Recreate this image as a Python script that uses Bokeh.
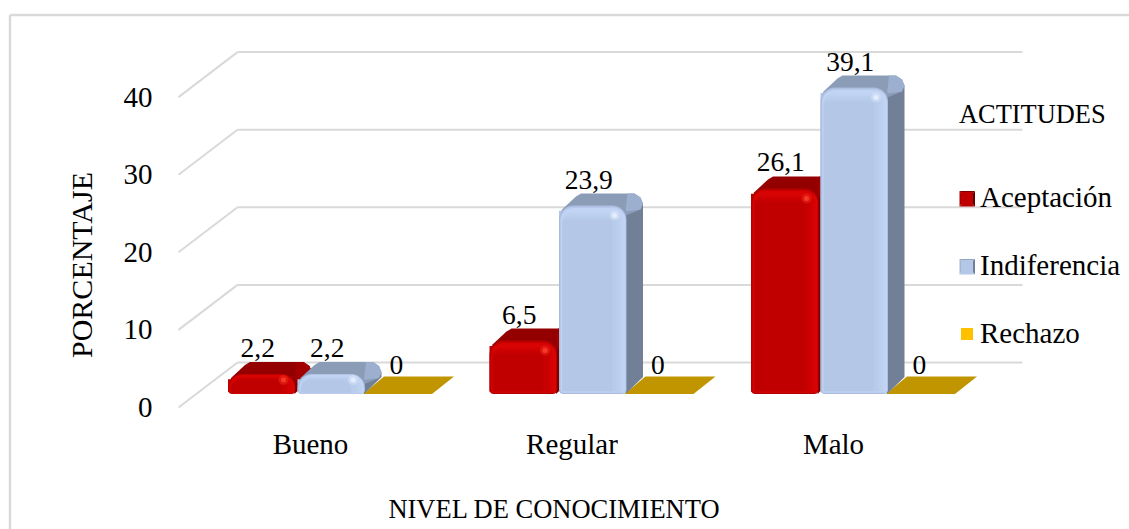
from bokeh.plotting import figure
from bokeh.models import Range1d, Legend, LegendItem
from bokeh.embed import file_html
from bokeh.resources import INLINE
import math

CATEGORIES = ["Bueno", "Regular", "Malo"]
ACEPTACION = [2.2, 6.5, 26.1]
INDIFERENCIA = [2.2, 23.9, 39.1]
RECHAZO = [0, 0, 0]
Y_TICKS = [0, 10, 20, 30, 40]
LABELS_A = ["2,2", "6,5", "26,1"]
LABELS_I = ["2,2", "23,9", "39,1"]
LABELS_R = ["0", "0", "0"]
SERIES_NAMES = ["Aceptación", "Indiferencia", "Rechazo"]

W, H = 1129, 529
ORIGIN = 0
FONT = "Liberation Serif"
PX_CAT = 261.5      # pixels per category
PX_VAL = 7.76       # pixels per percentage point
GRID = "#d9d9d9"

x_start = -(310 - ORIGIN) / PX_CAT
y_top = (407 - ORIGIN) / PX_VAL


def X(px):
    return x_start + (px - ORIGIN) / PX_CAT


def Y(py):
    return y_top - (py - ORIGIN) / PX_VAL


p = figure(width=W, height=H, output_backend="svg", toolbar_location=None,
           x_range=Range1d(x_start, x_start + W / PX_CAT),
           y_range=Range1d(y_top - H / PX_VAL, y_top),
           min_border=0, min_border_left=0, min_border_right=0,
           min_border_top=0, min_border_bottom=0)
p.outline_line_color = None
p.grid.visible = False
p.background_fill_color = "white"
p.border_fill_color = "white"

# axes
ya = p.yaxis[0]
ya.fixed_location = X(178)
ya.ticker = Y_TICKS
ya.axis_line_color = None
ya.major_tick_line_color = None
ya.minor_tick_line_color = None
ya.major_label_standoff = 20
ya.major_label_text_font = FONT
ya.major_label_text_font_size = "29px"
ya.major_label_text_color = "black"
ya.axis_label = "PORCENTAJE"
ya.axis_label_text_font = FONT
ya.axis_label_text_font_size = "30px"
ya.axis_label_text_font_style = "normal"
ya.axis_label_text_color = "black"
ya.axis_label_standoff = 23

xa = p.xaxis[0]
xa.fixed_location = Y(418)
xa.ticker = [0, 1, 2]
xa.major_label_overrides = {i: c for i, c in enumerate(CATEGORIES)}
xa.bounds = (X(178), X(930))
xa.axis_line_color = None
xa.major_tick_line_color = None
xa.minor_tick_line_color = None
xa.major_label_standoff = 3
xa.major_label_text_font = FONT
xa.major_label_text_font_size = "29px"
xa.major_label_text_color = "black"
xa.axis_label = "NIVEL DE CONOCIMIENTO"
xa.axis_label_text_font = FONT
xa.axis_label_text_font_size = "26.5px"
xa.axis_label_text_font_style = "normal"
xa.axis_label_text_color = "black"
xa.axis_label_standoff = 31

# outer frame of the chart
p.segment([X(9.5), X(9.5)], [Y(14.5), Y(14.5)], [X(1129), X(9.5)], [Y(14.5), Y(529)],
          line_color=GRID, line_width=2.5)

# back wall lines and side wall diagonals
FRONT_X, BACK_X, RIGHT_X = X(178), X(237), X(1022)
DEPTH_V = (407 - 362) / PX_VAL
p.segment([BACK_X] * 5, [t + DEPTH_V for t in Y_TICKS], [RIGHT_X] * 5, [t + DEPTH_V for t in Y_TICKS],
          line_color=GRID, line_width=2)
p.segment([FRONT_X] * 5, Y_TICKS, [BACK_X] * 5, [t + DEPTH_V for t in Y_TICKS],
          line_color=GRID, line_width=2)

BAR_W = 67.5
BASE_V = (407 - 393.5) / PX_VAL
OFFS = [-82.5, -13.0, 52.0]


def rrect(l, r, top, bot, rt, rb):
    """rounded rectangle in page pixels"""
    pts = []
    for (cx, cy, rad, a0) in [(l + rt, top + rt, rt, 180), (r - rt, top + rt, rt, 270),
                              (r - rb, bot - rb, rb, 0), (l + rb, bot - rb, rb, 90)]:
        for k in range(7):
            a = math.radians(a0 + 15 * k)
            pts.append((cx + rad * math.cos(a), cy + rad * math.sin(a)))
    return pts


def add_poly(xs, ys, cols, pts, col):
    xs.append([X(a) for a, _ in pts])
    ys.append([Y(b) for _, b in pts])
    cols.append(col)


def bar3d(i, off, val, ramp, c_top, c_corner, c_side, c_spot):
    xs, ys, cols = [], [], []
    x0 = 310 + i * PX_CAT + off
    x1 = x0 + BAR_W
    B = 393.5
    T = B - val * PX_VAL
    h = B - T
    F = T - 3          # top of the rounded front face
    # side and top faces
    add_poly(xs, ys, cols, [(x1 - 3, T + 6), (x1 + 16.5, T - 5), (x1 + 16.5, max(B - 17, T - 2)), (x1 - 1, B)], c_side)
    add_poly(xs, ys, cols, [(x0 + 1, T + 9), (x0 + 3, T + 1), (x0 + 17, T - 12), (x0 + 22, T - 15), (x1 + 8, T - 15),
                            (x1 + 14, T - 11), (x1 + 16.5, T - 5), (x1 + 14, T + 1), (x1 - 3, T + 8)], c_top)
    add_poly(xs, ys, cols, [(x1 + 1, T - 15), (x1 + 8, T - 15), (x1 + 14, T - 11), (x1 + 16.5, T - 5),
                            (x1 + 14, T + 1), (x1 - 1, T + 3)], c_corner)
    # front face: nested bevels
    f = min(1.0, h / 40.0)
    for col, il, ir, it, ib in ramp:
        it2, ib2 = it * f, ib * f
        rt = max(1.0, min(14, (h + 3) * 0.7) - max(il, it2) * 0.8)
        rb = max(0.5, 4 - ib2)
        add_poly(xs, ys, cols, rrect(x0 + il, x1 - ir, F + it2, B - ib2, rt, rb), col)
    p.patches(xs, ys, fill_color=cols, line_color=None)
    sx, sy = X(x1 - 12), Y(F + 10 * max(f, 0.6))
    p.scatter([sx], [sy], size=10, fill_color=c_spot, fill_alpha=0.3, line_color=None)
    p.scatter([sx], [sy], size=5, fill_color=c_spot, fill_alpha=0.7, line_color=None)


RED_RAMP = [("#b20000", 0, 0, 0, 0), ("#c40000", 1, 0.5, 1, 1), ("#d80404", 2, 1, 2.5, 1.5),
            ("#d80404", 2.5, 2, 5, 1.8), ("#d20202", 2.8, 4, 7, 2), ("#cc0000", 3, 7, 9, 2.5),
            ("#c60000", 3.3, 10, 11, 2.8), ("#c00000", 3.5, 14, 14, 3)]
BLUE_RAMP = [("#a8bbdb", 0, 0, 0, 0), ("#b5c8ea", 1, 0.5, 1, 1), ("#c2d4f4", 2, 1, 2.5, 1.5),
             ("#c2d4f4", 2.5, 2, 5, 1.8), ("#bfd1f1", 2.8, 4, 7, 2), ("#bbceee", 3, 7, 9, 2.5),
             ("#b7cbeb", 3.3, 10, 11, 2.8), ("#b4c7e7", 3.5, 14, 14, 3)]

# plain bars that carry the legend entries
quad_kw = dict(line_color=None)
n = len(CATEGORIES)
lefts_a = [i + OFFS[0] / PX_CAT for i in range(n)]
lefts_i = [i + OFFS[1] / PX_CAT for i in range(n)]
lefts_r = [i + OFFS[2] / PX_CAT for i in range(n)]
bw = BAR_W / PX_CAT
r_a = p.quad(left=lefts_a, right=[a + bw for a in lefts_a], bottom=[BASE_V + 0.3] * n,
             top=[BASE_V + v - 0.3 for v in ACEPTACION], fill_color="#c00000", **quad_kw)
r_r = p.quad(left=lefts_r, right=[a + bw for a in lefts_r], bottom=[BASE_V] * n,
             top=[BASE_V + v for v in RECHAZO], fill_color="#ffc000", **quad_kw)
for i, v in enumerate(ACEPTACION):
    bar3d(i, OFFS[0], v, RED_RAMP, "#940000", "#a20000", "#7c0000", "#ff4a30")

# floor tiles for the zero values
fx, fy = [], []
for i, v in enumerate(RECHAZO):
    x0 = 310 + i * PX_CAT + OFFS[2] + 0.5
    xf = [x0, x0 + 69, x0 + 91, x0 + 21]
    yf = [393.5, 393.5, 376, 376]
    fx.append([X(a) for a in xf])
    fy.append([Y(b) + v for b in yf])
p.patches(fx, fy, fill_color="#c19500", line_color=None)

r_i = p.quad(left=lefts_i, right=[a + bw for a in lefts_i], bottom=[BASE_V + 0.3] * n,
             top=[BASE_V + v - 0.3 for v in INDIFERENCIA], fill_color="#b4c7e7", **quad_kw)
for i, v in enumerate(INDIFERENCIA):
    bar3d(i, OFFS[1], v, BLUE_RAMP, "#8b9cb7", "#9cafcf", "#718096", "#eef5ff")

# data labels
for vals, labs, off, dx in [(ACEPTACION, LABELS_A, OFFS[0], -4), (INDIFERENCIA, LABELS_I, OFFS[1], -4),
                            (RECHAZO, LABELS_R, OFFS[2], 0)]:
    p.text([i + (off + BAR_W / 2) / PX_CAT for i in range(n)], [BASE_V + v for v in vals], text=labs,
           x_offset=dx, y_offset=-29, text_align="center", text_baseline="alphabetic",
           text_font={"value": FONT}, text_font_size="27.5px", text_color="black")

# legend
legend = Legend(items=[LegendItem(label=SERIES_NAMES[0], renderers=[r_a]),
                       LegendItem(label=SERIES_NAMES[1], renderers=[r_i]),
                       LegendItem(label=SERIES_NAMES[2], renderers=[r_r])],
                title="ACTITUDES", location=(959, 179), orientation="vertical",
                padding=0, margin=0, spacing=35, glyph_width=15, glyph_height=15,
                label_standoff=6, label_height=30,
                label_text_font=FONT, label_text_font_size="29px", label_text_color="black",
                title_text_font=FONT, title_text_font_size="26.4px", title_text_font_style="normal",
                title_text_color="black", title_standoff=51,
                background_fill_alpha=0, border_line_color=None)
p.add_layout(legend)

# shaded facets on the first two legend keys
kx, ky, kc = [], [], []
for key_top, faces in [(190.5, ["#7e0000", "#a80000", "#5e0000", "#bb0000"]),
                       (258.5, ["#93a5c3", "#a3b6d4", "#6f7f99", "#b4c7e7"])]:
    l, r, t, b = 959.0, 974.5, key_top, key_top + 15.5
    cx, cy = (l + r) / 2, (t + b) / 2
    for pts, c in zip([[(l, t), (r, t), (cx, cy)], [(l, t), (l, b), (cx, cy)],
                       [(r, t), (r, b), (cx, cy)], [(l, b), (r, b), (cx, cy)]], faces):
        add_poly(kx, ky, kc, pts, c)
p.patches(kx, ky, fill_color=kc, line_color=None, level="overlay")

open("out.html", "w").write(file_html(p, INLINE))
